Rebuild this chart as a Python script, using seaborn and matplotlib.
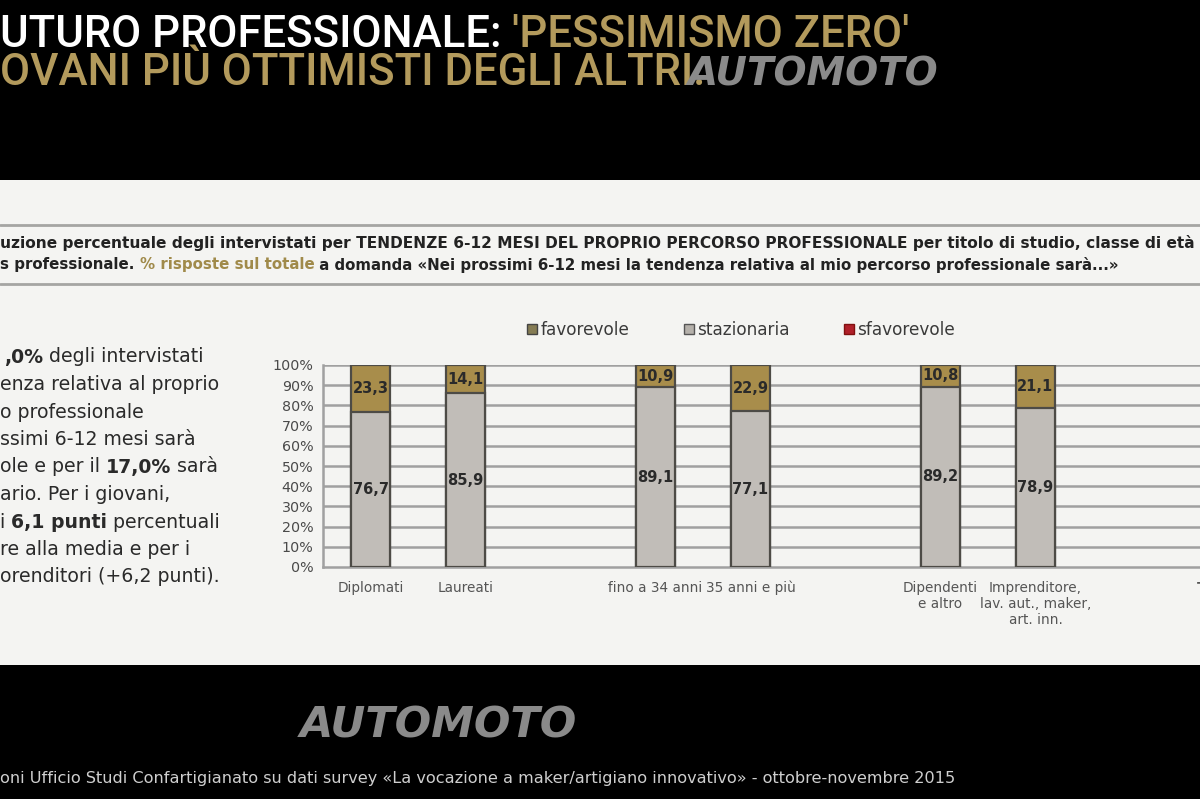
import pandas as pd
import seaborn as sns
import matplotlib.pyplot as plt
from matplotlib.patches import Rectangle, Patch

categorie = ["Diplomati", "Laureati", "fino a 34 anni", "35 anni e più",
             "Dipendenti\ne altro", "Imprenditore,\nlav. aut., maker,\nart. inn.", "TOTALE"]
stazionaria = [76.7, 85.9, 89.1, 77.1, 89.2, 78.9, 83.0]
favorevole = [23.3, 14.1, 10.9, 22.9, 10.8, 21.1, 17.0]
sfavorevole = [0.0, 0.0, 0.0, 0.0, 0.0, 0.0, 0.0]
ordine = ["Diplomati", "Laureati", " ", "fino a 34 anni", "35 anni e più", "  ",
          "Dipendenti\ne altro", "Imprenditore,\nlav. aut., maker,\nart. inn.", "   ", "TOTALE"]
tick_y = [0, 10, 20, 30, 40, 50, 60, 70, 80, 90, 100]

ORO = "#a88d4b"
GRIGIO = "#c1bdb8"
ROSSO = "#b0202a"
BORDO = "#4d4b46"

df = pd.DataFrame({"categoria": categorie, "stazionaria": stazionaria,
                   "favorevole": favorevole, "sfavorevole": sfavorevole})
df["cumulato"] = df["stazionaria"] + df["favorevole"] + df["sfavorevole"]

sns.set_style("white")
plt.rcParams['font.family'] = ['DejaVu Sans']

fig = plt.figure(figsize=(12, 7.99), dpi=100)
fig.patch.set_facecolor("black")

def fx(px):
    return px / 1200

def fy(py):
    return 1 - py / 799

# pannello bianco
fig.add_artist(Rectangle((0, fy(665)), 1, fy(180) - fy(665), transform=fig.transFigure,
                         facecolor="#f4f4f2", edgecolor="none", zorder=0))
for yy in [225, 284]:
    fig.add_artist(plt.Line2D([0, 1], [fy(yy), fy(yy)], transform=fig.transFigure,
                              color="#a5a5a3", lw=2, zorder=1))

renderer = fig.canvas.get_renderer()

def rich(x, y, parti, **kw):
    # scrive pezzi di testo uno dopo l'altro sulla stessa riga
    for s, stile in parti:
        opts = dict(kw)
        opts.update(stile)
        t = fig.text(x, y, s, **opts)
        bb = t.get_window_extent(renderer=renderer)
        x = bb.x1 / fig.bbox.width

# titolo
TITOLO = ["Roboto", "DejaVu Sans"]
rich(0, fy(35), [("UTURO PROFESSIONALE: ", {"color": "white"}),
                 ("'PESSIMISMO ZERO'", {"color": "#b39a5c"})],
     fontsize=31.5, fontweight="medium", va="center", family=TITOLO)
fig.text(0, fy(73), "OVANI PIÙ OTTIMISTI DEGLI ALTRI.", color="#b39a5c", fontsize=31.5,
         fontweight="medium", va="center", family=TITOLO)
fig.text(fx(688), fy(74), "AUTOMOTO", color="#8a8a8a", fontsize=28, fontweight="bold",
         style="italic", va="center")
fig.text(fx(300), fy(726), "AUTOMOTO", color="#8a8a8a", fontsize=31, fontweight="bold",
         style="italic", va="center")

# sottotitolo
fig.text(0, fy(243), "uzione percentuale degli intervistati per TENDENZE 6-12 MESI DEL PROPRIO "
         "PERCORSO PROFESSIONALE per titolo di studio, classe di età",
         fontsize=11.1, fontweight="semibold", color="#222222", va="center")
rich(0, fy(265), [("s professionale. ", {"color": "#222222"}),
                  ("% risposte sul totale", {"color": "#a08a4a"}),
                  (" a domanda «Nei prossimi 6-12 mesi la tendenza relativa al mio percorso "
                   "professionale sarà...»", {"color": "#222222"})],
     fontsize=10.8, fontweight="semibold", va="center")

# testo a sinistra
righe = [
    [(",0%", "bold"), (" degli intervistati", "normal")],
    [("enza relativa al proprio", "normal")],
    [("o professionale", "normal")],
    [("ssimi 6-12 mesi sarà", "normal")],
    [("ole e per il ", "normal"), ("17,0%", "bold"), (" sarà", "normal")],
    [("ario. Per i giovani,", "normal")],
    [("i ", "normal"), ("6,1 punti", "bold"), (" percentuali", "normal")],
    [("re alla media e per i", "normal")],
    [("orenditori (+6,2 punti).", "normal")],
]
for i, riga in enumerate(righe):
    x0 = fx(4) if i == 0 else 0
    rich(x0, fy(357 + i * 27.5), [(s, {"fontweight": w}) for s, w in riga],
         fontsize=13.6, color="#2a2a2a", va="center")

# fonte
fig.text(0, fy(778), "oni Ufficio Studi Confartigianato su dati survey «La vocazione a "
         "maker/artigiano innovativo» - ottobre-novembre 2015",
         fontsize=11.6, color="#cfcfcf", va="center")

# grafico
ax = fig.add_axes([fx(323), fy(567), 950 / 1200, fy(365) - fy(567)])
ax.set_facecolor("none")
sns.barplot(data=df, x="categoria", y="cumulato", order=ordine, color=ORO, saturation=1,
            width=0.41, edgecolor=BORDO, linewidth=1.6, ax=ax, zorder=3)
sns.barplot(data=df, x="categoria", y="stazionaria", order=ordine, color=GRIGIO, saturation=1,
            width=0.41, edgecolor=BORDO, linewidth=1.6, ax=ax, zorder=4)

ax.set_ylim(0, 100)
ax.set_xlim(-0.5, len(ordine) - 0.5)

# etichette nelle barre (solo quelle che restano dentro la slide)
pos = {c: i for i, c in enumerate(ordine)}
for c, s, f in zip(categorie, stazionaria, favorevole):
    if pos[c] > 8:
        continue
    ax.text(pos[c], s / 2, f"{s:.1f}".replace(".", ","), ha="center", va="center",
            fontsize=10.5, fontweight="bold", color="#2a2a2a", zorder=6)
    ax.text(pos[c], s + f / 2, f"{f:.1f}".replace(".", ","), ha="center", va="center",
            fontsize=10.5, fontweight="bold", color="#2a2a2a", zorder=6)

ax.set_yticks(tick_y)
ax.set_yticklabels([f"{v}%" for v in tick_y])
ax.set_xticks(range(len(ordine)))
ax.set_xticklabels(ordine)
ax.set_xticks([i - 0.5 for i in range(len(ordine) + 1)], minor=True)
for lab in ax.get_xticklabels():
    if lab.get_text() == "TOTALE":
        lab.set_fontweight("bold")
        lab.set_color("#222222")
        lab.set_fontsize(11)
ax.tick_params(axis="x", which="major", length=0, pad=10, labelsize=9.8, labelcolor="#555555")
ax.tick_params(axis="x", which="minor", length=4, width=1.2, color="#a0a0a0", direction="out")
ax.tick_params(axis="y", length=4, width=1.2, color="#a0a0a0", direction="out", pad=3,
               labelsize=10.3, labelcolor="#4a4a4a")
ax.set_xlabel("")
ax.set_ylabel("")
for v in tick_y[1:]:
    ax.axhline(v, color="#a0a0a0", lw=1.8, zorder=1)
for side in ["top", "right"]:
    ax.spines[side].set_visible(False)
for side in ["left", "bottom"]:
    ax.spines[side].set_color("#a0a0a0")
    ax.spines[side].set_linewidth(1.8)

ax.legend(handles=[Patch(facecolor="#857c54", edgecolor="#444444", label="favorevole"),
                   Patch(facecolor="#b5b1ab", edgecolor="#555555", label="stazionaria"),
                   Patch(facecolor=ROSSO, edgecolor="#801010", label="sfavorevole")],
          loc="center", bbox_to_anchor=(fx(741), fy(330)), bbox_transform=fig.transFigure,
          ncol=3, frameon=False, fontsize=12.2, handlelength=0.6, handleheight=0.6,
          handletextpad=0.2, columnspacing=3.2, labelcolor="#3a3a3a")

fig.savefig("out.png", dpi=100, facecolor=fig.get_facecolor())
